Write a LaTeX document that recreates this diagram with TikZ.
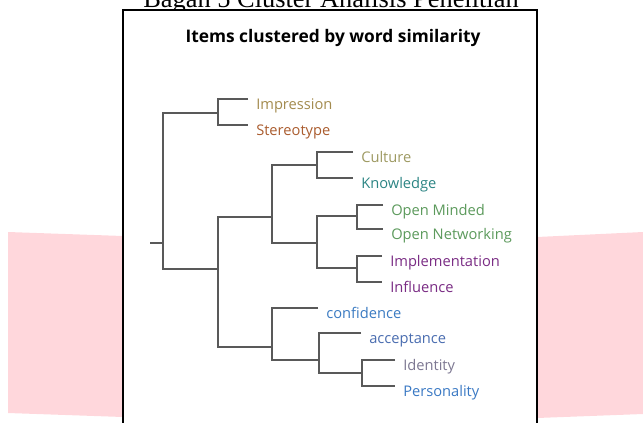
\documentclass[tikz,border=0pt]{standalone}
\usepackage{fontspec}
\setmainfont{Liberation Serif}
\newfontfamily\labelfont{Open Sans}
\usetikzlibrary{positioning}
\definecolor{bandpink}{RGB}{255,215,220}
\definecolor{cImpr}{RGB}{163,139,78}
\definecolor{cStereo}{RGB}{170,92,46}
\definecolor{cCult}{RGB}{158,154,98}
\definecolor{cKnow}{RGB}{44,133,132}
\definecolor{cOpen}{RGB}{92,154,92}
\definecolor{cImpl}{RGB}{122,44,132}
\definecolor{cConf}{RGB}{59,123,194}
\definecolor{cAcc}{RGB}{74,109,176}
\definecolor{cIdent}{RGB}{125,120,146}
\definecolor{cPers}{RGB}{58,121,196}
\tikzset{>=latex,
  branch/.style={draw=black!65, line width=1.35pt},
  leaf/.style={font=\labelfont\fontsize{11}{13}\selectfont, anchor=base west, inner sep=0pt},
  band/.style={fill=bandpink, draw=none}
}

\begin{document}
\begin{tikzpicture}[x=0.75pt,y=-0.75pt]
  \useasboundingbox (0,0) rectangle (643,422);
  \clip (0,0) rectangle (643,422);
  \path[band] (8,232) -- (123,236) -- (123,417) -- (8,413) -- cycle;
  \path[band] (537,237) -- (643,232) -- (643,414) -- (537,418) -- cycle;
  \node[font=\fontsize{19.8}{22}\selectfont, anchor=base] (caption) at (331,7) {Bagan 5 Cluster Analisis Penelitian};
  \draw[line width=1.1pt, fill=white] (123,10) rectangle (537,440);
  \node[font=\labelfont\bfseries\fontsize{13}{15}\selectfont] (title) at (333,38) {Items clustered by word similarity};

  % branch points and leaf ends
  \coordinate (stub) at (150,243);
  \coordinate (nRoot) at (163,243);
  \coordinate (nA) at (218,113);
  \coordinate (nB) at (218,269);
  \coordinate (nC) at (272,217);
  \coordinate (nD) at (272,347);
  \coordinate (nE) at (317,165);
  \coordinate (nF) at (317,243);
  \coordinate (nG) at (357,216);
  \coordinate (nH) at (357,268);
  \coordinate (nI) at (319,360);
  \coordinate (nJ) at (362,373);
  \coordinate (eImpr) at (248,99);
  \coordinate (eStereo) at (248,125);
  \coordinate (eCult) at (353,152);
  \coordinate (eKnow) at (353,178);
  \coordinate (eOpenM) at (383,205);
  \coordinate (eOpenN) at (383,229);
  \coordinate (eImpl) at (382,256);
  \coordinate (eInfl) at (382,282);
  \coordinate (eConf) at (318,308);
  \coordinate (eAcc) at (361,333);
  \coordinate (eIdent) at (395,360);
  \coordinate (ePers) at (395,386);

  \foreach \a/\k/\b in {eImpr/nA/eStereo, eCult/nE/eKnow, eOpenM/nG/eOpenN,
      eImpl/nH/eInfl, nG/nF/nH, nE/nC/nF, eIdent/nJ/ePers, eAcc/nI/nJ,
      eConf/nD/nI, nC/nB/nD, nA/nRoot/nB}
    \draw[branch] (\a) -| (\k) |- (\b);
  \draw[branch] (stub) -- (nRoot);

  \node[leaf, text=cImpr] (impression) at ([xshift=6pt,yshift=-7.5pt]eImpr) {Impression};
  \node[leaf, text=cStereo] (stereotype) at ([xshift=6pt,yshift=-7.5pt]eStereo) {Stereotype};
  \node[leaf, text=cCult] (culture) at ([xshift=6pt,yshift=-7.5pt]eCult) {Culture};
  \node[leaf, text=cKnow] (knowledge) at ([xshift=6pt,yshift=-7.5pt]eKnow) {Knowledge};
  \node[leaf, text=cOpen] (openminded) at ([xshift=6pt,yshift=-7.5pt]eOpenM) {Open Minded};
  \node[leaf, text=cOpen] (opennet) at ([xshift=6pt,yshift=-7.5pt]eOpenN) {Open Networking};
  \node[leaf, text=cImpl] (implementation) at ([xshift=6pt,yshift=-7.5pt]eImpl) {Implementation};
  \node[leaf, text=cImpl] (influence) at ([xshift=6pt,yshift=-7.5pt]eInfl) {Influence};
  \node[leaf, text=cConf] (confidence) at ([xshift=6pt,yshift=-7.5pt]eConf) {confidence};
  \node[leaf, text=cAcc] (acceptance) at ([xshift=6pt,yshift=-7.5pt]eAcc) {acceptance};
  \node[leaf, text=cIdent] (identity) at ([xshift=6pt,yshift=-7.5pt]eIdent) {Identity};
  \node[leaf, text=cPers] (personality) at ([xshift=6pt,yshift=-7.5pt]ePers) {Personality};
\end{tikzpicture}
\end{document}
